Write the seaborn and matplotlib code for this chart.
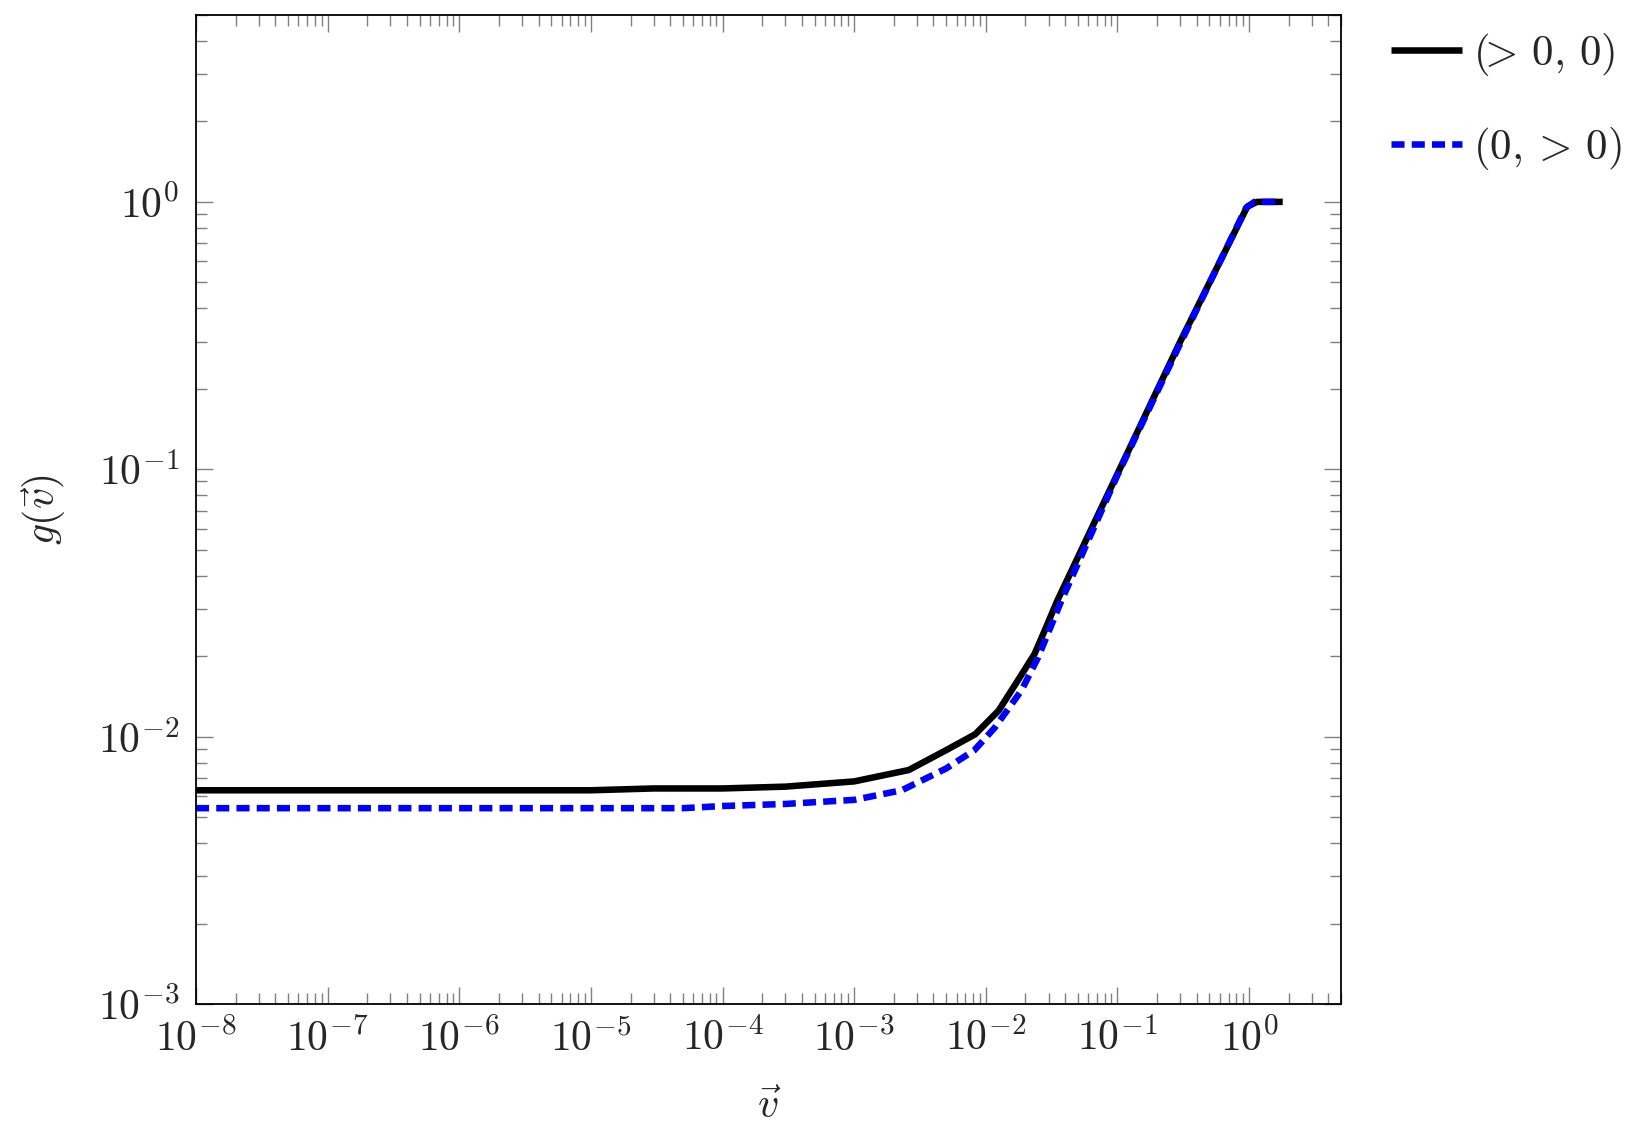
import numpy as np
import pandas as pd
import seaborn as sns
import matplotlib.pyplot as plt
import matplotlib.ticker as mticker

# data
black_x = [1e-8, 1e-7, 1e-6, 1e-5, 3e-5, 1e-4, 3e-4, 1e-3, 2.6e-3, 5e-3, 8.3e-3,
           1.25e-2, 1.75e-2, 2.35e-2, 2.8e-2, 3.5e-2, 0.1, 0.3, 0.97, 1.15, 1.8]
black_y = [0.0063, 0.0063, 0.0063, 0.0063, 0.0064, 0.0064, 0.0065, 0.0068, 0.0075, 0.0089, 0.0102,
           0.0125, 0.0162, 0.0204, 0.0249, 0.0323, 0.096, 0.30, 0.96, 1.0, 1.0]

blue_x = [1e-8, 1e-6, 1e-5, 5e-5, 1e-4, 3e-4, 1e-3, 2.3e-3, 5e-3, 8.2e-3,
          1.17e-2, 1.87e-2, 2.5e-2, 3.76e-2, 0.1, 0.3, 0.95, 1.1, 1.8]
blue_y = [0.0054, 0.0054, 0.0054, 0.0054, 0.0055, 0.0056, 0.0058, 0.0063, 0.0076, 0.0089,
          0.0108, 0.0149, 0.0198, 0.0323, 0.095, 0.295, 0.95, 1.0, 1.0]

labels = [r'$(\!\!>\,0,\,0)$', r'$(0,>\,0)$']

sns.set_theme(style='white')
plt.rcParams['mathtext.fontset'] = 'cm'
plt.rcParams['font.family'] = ['DejaVu Serif']

fig = plt.figure(figsize=(16.43, 11.36), dpi=100)
ax = fig.add_axes([0.1193, 0.1162, 0.6969, 0.8706])

lw = 4.7
sns.lineplot(x=black_x, y=black_y, ax=ax, color='black', lw=lw, label=labels[0],
             solid_capstyle='butt')
sns.lineplot(x=blue_x, y=blue_y, ax=ax, color='#0000ff', lw=lw, label=labels[1],
             linestyle=(0, (2.0, 1.1)), dash_capstyle='butt')

ax.set_xscale('log')
ax.set_yscale('log')
ax.set_xlim(1e-8, 5)
ax.set_ylim(1e-3, 5)

ax.xaxis.set_major_locator(mticker.LogLocator(base=10, numticks=20))
ax.xaxis.set_minor_locator(mticker.LogLocator(base=10, subs=np.arange(2, 10), numticks=20))
ax.yaxis.set_major_locator(mticker.LogLocator(base=10, numticks=20))
ax.yaxis.set_minor_locator(mticker.LogLocator(base=10, subs=np.arange(2, 10), numticks=20))
fmt = mticker.FuncFormatter(lambda v, p: r'$10^{%d}$' % round(np.log10(v)))
ax.xaxis.set_major_formatter(fmt)
ax.yaxis.set_major_formatter(fmt)
ax.xaxis.set_minor_formatter(mticker.NullFormatter())
ax.yaxis.set_minor_formatter(mticker.NullFormatter())

ax.tick_params(which='both', direction='in', bottom=True, left=True, top=True, right=True,
               color='#808080', width=1.0)
ax.tick_params(which='major', length=12, labelsize=30)
ax.tick_params(which='minor', length=8)
ax.tick_params(axis='x', which='major', pad=10)
ax.tick_params(axis='y', which='major', pad=12)

for s in ax.spines.values():
    s.set_color('black')
    s.set_linewidth(1.3)

ax.set_xlabel(r'$\vec{v}$', fontsize=30)
ax.set_ylabel(r'$g(\vec{v})$', fontsize=30)
ax.xaxis.set_label_coords(0.5, -0.082)
ax.yaxis.set_label_coords(-0.112, 0.5)

ax.legend(loc='upper left', bbox_to_anchor=(1.021, 1.01), frameon=False, fontsize=31,
          handlelength=1.65, handletextpad=0.25, labelspacing=1.1, borderaxespad=0.2)

fig.savefig('out.png', dpi=100)
